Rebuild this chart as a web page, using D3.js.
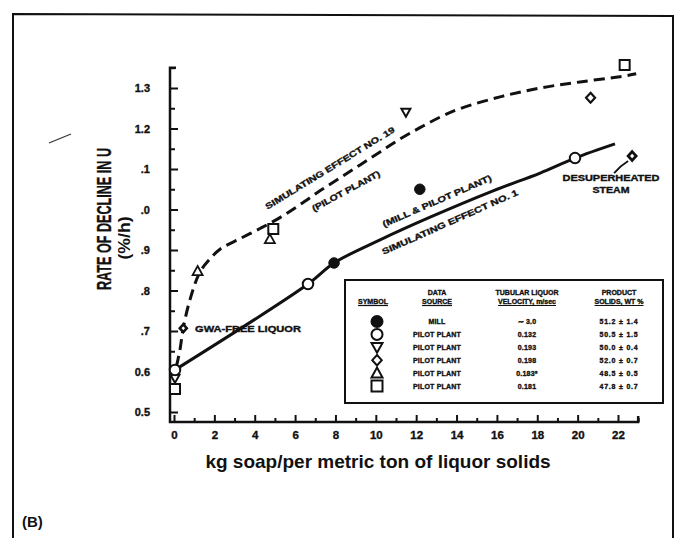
<!DOCTYPE html>
<html>
<head>
<meta charset="utf-8">
<script src="https://cdn.jsdelivr.net/npm/d3@7"></script>
<style>
  body { margin: 0; background: #fff; }
  svg { display: block; }
  text { font-family: "Liberation Sans", Arial, Helvetica, sans-serif; font-weight: bold; fill: #111; }
  .heavy { stroke: #111; stroke-width: 0.35px; }
</style>
</head>
<body>
<svg id="chart" width="683" height="538"></svg>
<script>
// ---- axis ticks ----
const xMajorTicks = [0, 2, 4, 6, 8, 10, 12, 14, 16, 18, 20, 22];
const yMajorTicks = [0.5, 0.6, 0.7, 0.8, 0.9, 1.0, 1.1, 1.2, 1.3];
const yTickLabels = ["0.5", "0.6", ".7", ".8", ".9", ".0", ".1", "1.2", "1.3"];

// ---- measured points: [kg soap per t solids, rate of decline %/h] ----
const millPoints      = [[7.93, 0.868], [12.18, 1.050]];
const pilot132Points  = [[0.05, 0.604], [6.64, 0.816], [19.87, 1.127]];
const pilot193Points  = [[0.05, 0.583], [11.49, 1.240]];
const pilot198Points  = [[0.46, 0.707], [20.64, 1.276]];
const pilot183Points  = [[1.17, 0.848], [4.75, 0.927]];
const pilot181Points  = [[0.05, 0.557], [4.92, 0.952], [22.33, 1.357]];
const steamPoint      = [[22.70, 1.132]];

// ---- fitted curves ----
const effect19Curve = [[0.12, 0.612], [0.3, 0.655], [0.45, 0.705], [0.79, 0.777], [1.29, 0.846],
  [1.78, 0.878], [2.28, 0.902], [3.27, 0.928], [4.26, 0.953], [5.25, 0.980], [6.24, 1.012],
  [7.23, 1.046], [8.23, 1.078], [9.22, 1.110], [10.21, 1.142], [11.2, 1.174], [12.19, 1.202],
  [13.18, 1.228], [14.17, 1.249], [16.15, 1.278], [18.14, 1.300], [20.12, 1.315], [22.1, 1.328],
  [22.9, 1.335]];
const effect1Curve = [[0.05, 0.604], [6.64, 0.816], [7.93, 0.868], [10.21, 0.925], [12.69, 0.981],
  [15.81, 1.046], [18.14, 1.090], [19.87, 1.127], [21.85, 1.162]];

// ---- legend table ----
const tableHeaders1 = ["", "DATA", "TUBULAR LIQUOR", "PRODUCT"];
const tableHeaders2 = ["SYMBOL", "SOURCE", "VELOCITY, m/sec", "SOLIDS, WT %"];
const tableSymbols  = ["fcircle", "circle", "tridown", "diamond", "triup", "square"];
const tableSources  = ["MILL", "PILOT PLANT", "PILOT PLANT", "PILOT PLANT", "PILOT PLANT", "PILOT PLANT"];
const tableVelocity = ["\u223C 3.0", "0.132", "0.193", "0.198", "0.183*", "0.181"];
const tableSolids   = ["51.2 \u00B1 1.4", "50.5 \u00B1 1.5", "50.0 \u00B1 0.4", "52.0 \u00B1 0.7", "48.5 \u00B1 0.5", "47.8 \u00B1 0.7"];

const svg = d3.select("#chart");
const x = d3.scaleLinear().domain([0, 22]).range([174, 618]);
const y = d3.scaleLinear().domain([0.5, 1.3]).range([412, 88]);

// outer frame (open at the bottom)
svg.append("path")
  .attr("d", "M13,538 L13,14 L673,16 L673,538")
  .attr("fill", "none").attr("stroke", "#111").attr("stroke-width", 2);
// small stray pen stroke
svg.append("path").attr("d", "M49,143 L71,134")
  .attr("stroke", "#333").attr("stroke-width", 1.2).attr("fill", "none");

// ---- axes ----
const axisCornerX = 170, axisCornerY = 422;
svg.append("path")
  .attr("d", `M${axisCornerX + 6},${y(1.35)} L${axisCornerX},${y(1.35)} L${axisCornerX},${axisCornerY} L${x(23)},${axisCornerY} L${x(23)},${axisCornerY - 6}`)
  .attr("fill", "none").attr("stroke", "#111").attr("stroke-width", 2.5);

const xAxis = d3.axisBottom(x)
  .tickValues(d3.range(0, 24))
  .tickSizeInner(-4).tickSizeOuter(0).tickPadding(9)
  .tickFormat(d => xMajorTicks.includes(d) ? d : "");
const gx = svg.append("g").attr("transform", `translate(0,${axisCornerY})`).call(xAxis);
gx.select(".domain").remove();
gx.selectAll(".tick line").attr("stroke", "#111").attr("stroke-width", 2)
  .attr("y2", d => xMajorTicks.includes(d) ? -7 : -4);
gx.selectAll(".tick text").attr("class", "heavy").style("font-size", "11.5px").attr("fill", "#111");

const yMinor = d3.range(0, 18).map(i => +(0.5 + i * 0.05).toFixed(2));
const yAxis = d3.axisLeft(y)
  .tickValues(yMinor)
  .tickSizeInner(-4).tickSizeOuter(0).tickPadding(20)
  .tickFormat(d => {
    const i = yMajorTicks.findIndex(v => Math.abs(v - d) < 1e-6);
    return i >= 0 ? yTickLabels[i] : "";
  });
const gy = svg.append("g").attr("transform", `translate(${axisCornerX},0)`).call(yAxis);
gy.select(".domain").remove();
gy.selectAll(".tick line").attr("stroke", "#111").attr("stroke-width", 2)
  .attr("x2", d => yMajorTicks.some(v => Math.abs(v - d) < 1e-6) ? 8 : 5);
gy.selectAll(".tick text").attr("class", "heavy").style("font-size", "11px").attr("fill", "#111");

// axis titles
svg.append("text").attr("x", 378).attr("y", 468).attr("text-anchor", "middle")
  .style("font-size", "19px").text("kg soap/per metric ton of liquor solids");
svg.append("text").attr("transform", "translate(111,219) rotate(-90)").attr("text-anchor", "middle")
  .attr("class", "heavy")
  .attr("textLength", 142).attr("lengthAdjust", "spacingAndGlyphs")
  .style("font-size", "21px").text("RATE OF DECLINE IN U");
svg.append("text").attr("transform", "translate(130,238) rotate(-90)").attr("text-anchor", "middle")
  .attr("textLength", 43).attr("lengthAdjust", "spacingAndGlyphs")
  .style("font-size", "17px").text("(%/h)");
svg.append("text").attr("x", 22).attr("y", 527).style("font-size", "15px").text("(B)");

// ---- curves ----
const line = d3.line().x(d => x(d[0])).y(d => y(d[1])).curve(d3.curveCatmullRom.alpha(0.5));
svg.append("path").datum(effect19Curve).attr("d", line)
  .attr("fill", "none").attr("stroke", "#111").attr("stroke-width", 3)
  .attr("stroke-dasharray", "11,6");
svg.append("path").datum(effect1Curve).attr("d", line)
  .attr("fill", "none").attr("stroke", "#111").attr("stroke-width", 3);

// leader from the steam point to its note
svg.append("path").attr("d", `M${x(22.7) - 4},${y(1.132) + 5} Q${x(22.7) - 12},${y(1.132) + 10} ${x(22.7) - 18},${y(1.132) + 17}`)
  .attr("fill", "none").attr("stroke", "#111").attr("stroke-width", 1.8);

// ---- markers ----
function markerPath(type, s) {
  const h = s / 2;
  switch (type) {
    case "circle": case "fcircle":
      return `M${-h},0 A${h},${h} 0 1,0 ${h},0 A${h},${h} 0 1,0 ${-h},0 Z`;
    case "square":
      return `M${-h},${-h} L${h},${-h} L${h},${h} L${-h},${h} Z`;
    case "triup":
      return `M0,${-h} L${h},${h * 0.8} L${-h},${h * 0.8} Z`;
    case "tridown":
      return `M0,${h} L${h},${-h * 0.8} L${-h},${-h * 0.8} Z`;
    case "diamond":
      return `M0,${-h * 1.1} L${h},0 L0,${h * 1.1} L${-h},0 Z`;
  }
}
function drawMarkers(points, type, size, sw) {
  svg.append("g").selectAll("path").data(points).join("path")
    .attr("transform", d => `translate(${x(d[0])},${y(d[1])})`)
    .attr("d", markerPath(type, size))
    .attr("fill", type === "fcircle" ? "#111" : "#fff")
    .attr("stroke", "#111").attr("stroke-width", sw);
}
drawMarkers(pilot181Points, "square", 10, 2);
drawMarkers(pilot193Points, "tridown", 9, 2);
drawMarkers(pilot183Points, "triup", 10, 1.8);
drawMarkers(pilot132Points, "circle", 10.5, 2);
drawMarkers(millPoints, "fcircle", 10.5, 1);
drawMarkers(pilot198Points.slice(0, 1), "diamond", 7, 2.6);
drawMarkers(pilot198Points.slice(1), "diamond", 9, 2.2);
drawMarkers(steamPoint, "diamond", 8, 2.8);

// ---- curve and point notes ----
function note(txt, cx, cy, angle, len, fs) {
  const t = svg.append("text")
    .attr("class", "heavy")
    .attr("transform", `translate(${cx},${cy}) rotate(${-angle})`)
    .attr("text-anchor", "middle").attr("dominant-baseline", "central")
    .style("font-size", fs + "px").text(txt);
  if (len) t.attr("textLength", len).attr("lengthAdjust", "spacingAndGlyphs");
}
note("SIMULATING EFFECT NO. 19", 330, 168, 31.5, 150, 8.5);
note("(PILOT PLANT)", 346, 191, 28.5, 76, 8.5);
note("(MILL & PILOT PLANT)", 437, 201, 23.5, 118, 8.5);
note("SIMULATING EFFECT NO. 1", 450, 222, 24, 148, 8.5);
note("DESUPERHEATED", 611, 178, 0, 97, 8.5);
note("STEAM", 611, 190, 0, 37, 8.5);
svg.append("text").attr("x", 195).attr("y", 328.5).attr("dominant-baseline", "central")
  .attr("class", "heavy")
  .attr("textLength", 106).attr("lengthAdjust", "spacingAndGlyphs")
  .style("font-size", "8.5px").text("GWA-FREE LIQUOR");

// ---- legend table ----
const tbl = svg.append("g");
tbl.append("rect").attr("x", 345).attr("y", 280).attr("width", 318).attr("height", 123)
  .attr("fill", "#fff").attr("stroke", "#111").attr("stroke-width", 2);
const colX = [373, 437, 527, 619];
tableHeaders1.forEach((h, i) => {
  tbl.append("text").attr("x", colX[i]).attr("y", 292).attr("text-anchor", "middle")
    .attr("class", "heavy")
    .attr("dominant-baseline", "central").style("font-size", "7px").text(h);
});
tableHeaders2.forEach((h, i) => {
  const t = tbl.append("text").attr("x", colX[i]).attr("y", 301).attr("text-anchor", "middle")
    .attr("class", "heavy")
    .attr("dominant-baseline", "central").style("font-size", "7px").text(h);
  const w = t.node().getComputedTextLength();
  tbl.append("line").attr("x1", colX[i] - w / 2).attr("x2", colX[i] + w / 2)
    .attr("y1", 305.5).attr("y2", 305.5).attr("stroke", "#111").attr("stroke-width", 1.2);
});
const rowY = d3.scalePoint().domain(d3.range(tableSymbols.length)).range([321.5, 386]);
tableSymbols.forEach((s, i) => {
  tbl.append("path").attr("transform", `translate(${colX[0] + 4},${rowY(i)})`)
    .attr("d", markerPath(s, s === "diamond" ? 9.5 : 11))
    .attr("fill", s === "fcircle" ? "#111" : "#fff").attr("stroke", "#111").attr("stroke-width", 2);
  [tableSources[i], tableVelocity[i], tableSolids[i]].forEach((v, j) => {
    tbl.append("text").attr("x", colX[j + 1]).attr("y", rowY(i)).attr("text-anchor", "middle")
      .attr("class", "heavy")
      .attr("dominant-baseline", "central").style("font-size", "7px")
      .style("letter-spacing", j === 2 ? "0.8px" : "0.2px").text(v);
  });
});
</script>
</body>
</html>
